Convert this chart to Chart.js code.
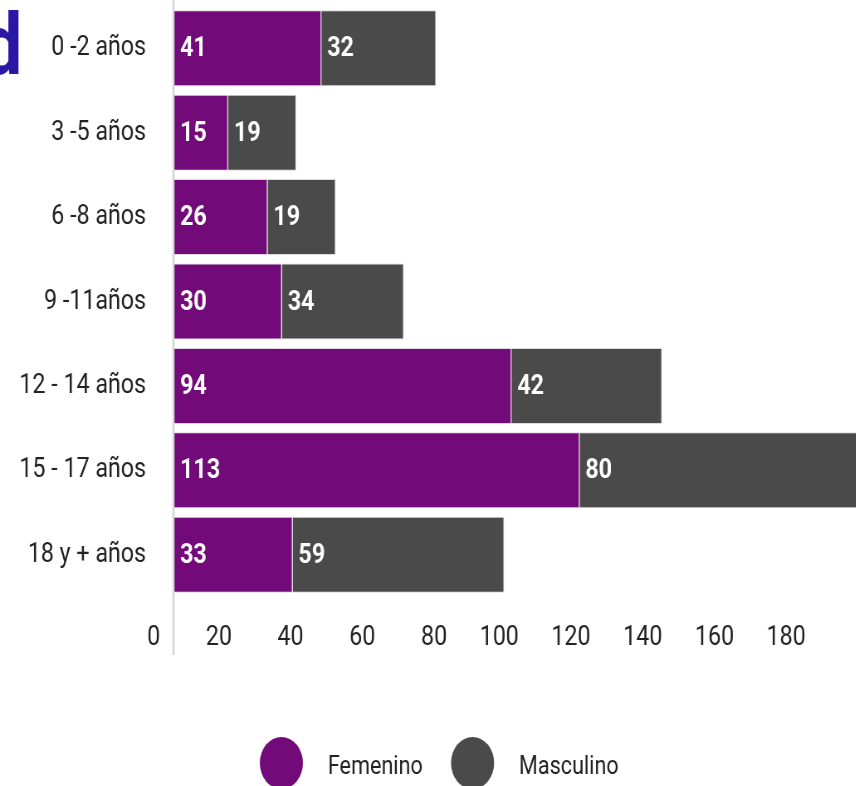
<!DOCTYPE html>
<html lang="es">
<head>
    <meta charset="UTF-8">
    <title>Edad</title>
    <script src="https://cdn.jsdelivr.net/npm/chart.js@4.4.1/dist/chart.umd.min.js"></script>
    <style>
        html, body {
            margin: 0;
            padding: 0;
            background: #fff;
            overflow: hidden;
        }

        /* the reference is squeezed horizontally, so draw wide and squeeze */
        .wrap {
            width: 1031px;
            height: 786px;
            transform: scaleX(0.83);
            transform-origin: 0 0;
        }
    </style>
</head>
<body>
    <div class="wrap">
        <canvas id="edadChart"></canvas>
    </div>

    <script>
        const categories = ['0 -2 años', '3 -5 años', '6 -8 años', '9 -11años', '12 - 14 años', '15 - 17 años', '18 y + años'];
        const femenino = [41, 15, 26, 30, 94, 113, 33];
        const masculino = [32, 19, 19, 34, 42, 80, 59];
        const xTicks = [0, 20, 40, 60, 80, 100, 120, 140, 160, 180];

        const FONT = 'Roboto, "Noto Sans", sans-serif';

        // white numbers at the left of each segment
        const segmentLabels = {
            id: 'segmentLabels',
            afterDatasetsDraw(chart) {
                const ctx = chart.ctx;
                ctx.save();
                ctx.fillStyle = '#fff';
                ctx.font = 'bold 28px ' + FONT;
                ctx.textAlign = 'left';
                ctx.textBaseline = 'middle';
                chart.data.datasets.forEach((ds, i) => {
                    chart.getDatasetMeta(i).data.forEach((bar, j) => {
                        const p = bar.getProps(['base', 'y'], true);
                        ctx.fillText(ds.data[j], p.base + 7, p.y + 1);
                    });
                });
                ctx.restore();
            }
        };

        // vertical axis line, cut off title letter and the round legend
        const extras = {
            id: 'extras',
            afterDraw(chart) {
                const ctx = chart.ctx;
                const x0 = chart.scales.x.getPixelForValue(0);
                ctx.save();
                ctx.strokeStyle = '#d4d4d4';
                ctx.lineWidth = 2.5;
                ctx.beginPath();
                ctx.moveTo(x0 - 1, 0);
                ctx.lineTo(x0 - 1, 655);
                ctx.stroke();

                ctx.fillStyle = '#2a17a3';
                ctx.font = 'bold 86px ' + FONT;
                ctx.textAlign = 'right';
                ctx.textBaseline = 'alphabetic';
                ctx.fillText('d', 27, 74);

                ctx.font = '26px ' + FONT;
                ctx.textAlign = 'left';
                ctx.textBaseline = 'middle';
                let x = 313;
                chart.data.datasets.forEach(ds => {
                    ctx.fillStyle = ds.backgroundColor;
                    ctx.beginPath();
                    ctx.ellipse(x + 26, 763, 26, 26, 0, 0, Math.PI * 2);
                    ctx.fill();
                    ctx.fillStyle = '#222';
                    ctx.fillText(ds.label, x + 82, 767);
                    x += 82 + ctx.measureText(ds.label).width + 34;
                });
                ctx.restore();
            }
        };

        new Chart(document.getElementById('edadChart'), {
            type: 'bar',
            data: {
                labels: categories,
                datasets: [{
                    label: 'Femenino',
                    data: femenino,
                    backgroundColor: '#730a79',
                    borderColor: '#e2d6e4',
                    borderWidth: 1,
                    barPercentage: 0.9,
                    categoryPercentage: 1
                }, {
                    label: 'Masculino',
                    data: masculino,
                    backgroundColor: '#4a4a4a',
                    borderColor: '#dcdcdc',
                    borderWidth: 1,
                    barPercentage: 0.9,
                    categoryPercentage: 1
                }]
            },
            options: {
                indexAxis: 'y',
                responsive: true,
                maintainAspectRatio: false,
                animation: false,
                layout: {
                    padding: { top: 6, right: 0, bottom: 129, left: 0 }
                },
                plugins: {
                    legend: { display: false },
                    tooltip: { enabled: false }
                },
                scales: {
                    x: {
                        stacked: true,
                        min: 0,
                        max: 190,
                        grid: { display: false },
                        border: { display: false },
                        afterBuildTicks: scale => {
                            scale.ticks = xTicks.map(v => ({ value: v }));
                        },
                        afterFit: scale => {
                            scale.height = 60;
                        },
                        ticks: {
                            color: '#222',
                            font: { family: FONT, size: 28 },
                            align: 'end',
                            labelOffset: -17,
                            padding: 16,
                            maxRotation: 0
                        }
                    },
                    y: {
                        stacked: true,
                        grid: { display: false },
                        border: { display: false },
                        afterFit: scale => {
                            scale.width = 210;
                            scale.paddingTop = 0;
                            scale.paddingBottom = 0;
                        },
                        ticks: {
                            color: '#222',
                            font: { family: FONT, size: 28 },
                            padding: 26
                        }
                    }
                }
            },
            plugins: [segmentLabels, extras]
        });
    </script>
</body>
</html>
